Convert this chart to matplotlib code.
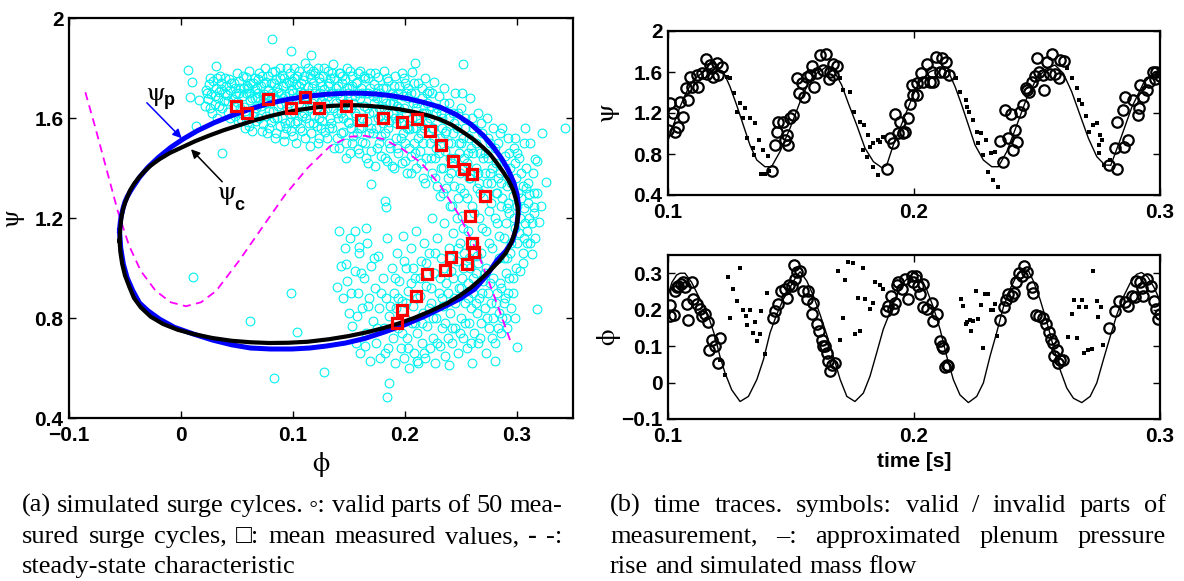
import matplotlib
matplotlib.use("Agg")
import matplotlib.pyplot as plt

plt.rcParams["font.family"] = ["Liberation Sans", "DejaVu Sans"]
plt.rcParams["mathtext.fontset"] = "stix"

# ---------------------------------------------------------------- (a) phase plane
# valid parts of the measured surge cycles (phi, psi)
valid_upper = [
    (0.022, 1.712), (0.025, 1.735), (0.027, 1.695), (0.029, 1.748), (0.031, 1.722), (0.033, 1.681),
    (0.034, 1.706), (0.036, 1.741), (0.038, 1.668), (0.040, 1.728), (0.041, 1.692), (0.043, 1.757),
    (0.044, 1.712), (0.046, 1.676), (0.024, 1.676), (0.030, 1.655), (0.037, 1.640), (0.042, 1.625),
    (0.026, 1.761), (0.035, 1.770), (0.047, 1.739), (0.049, 1.702), (0.050, 1.664), (0.052, 1.748),
    (0.053, 1.721), (0.055, 1.688), (0.056, 1.645), (0.058, 1.765), (0.059, 1.730), (0.061, 1.700),
    (0.062, 1.672), (0.064, 1.742), (0.065, 1.620), (0.066, 1.715), (0.068, 1.685), (0.069, 1.756),
    (0.048, 1.610), (0.054, 1.598), (0.060, 1.585), (0.067, 1.640), (0.057, 1.560), (0.063, 1.548),
    (0.070, 1.600), (0.071, 1.728), (0.072, 1.770), (0.074, 1.695), (0.075, 1.660), (0.076, 1.745),
    (0.078, 1.712), (0.079, 1.630), (0.081, 1.785), (0.082, 1.680), (0.083, 1.740), (0.085, 1.758),
    (0.086, 1.600), (0.087, 1.705), (0.089, 1.655), (0.090, 1.772), (0.091, 1.728), (0.093, 1.690),
    (0.094, 1.560), (0.095, 1.800), (0.096, 1.745), (0.098, 1.618), (0.099, 1.712), (0.073, 1.575),
    (0.077, 1.540), (0.080, 1.585), (0.084, 1.520), (0.088, 1.570), (0.092, 1.535), (0.097, 1.585),
    (0.100, 1.530), (0.101, 1.760), (0.102, 1.680), (0.103, 1.735), (0.104, 1.590), (0.105, 1.790),
    (0.106, 1.705), (0.107, 1.650), (0.108, 1.550), (0.109, 1.752), (0.110, 1.620), (0.111, 1.820),
    (0.112, 1.690), (0.113, 1.725), (0.114, 1.580), (0.115, 1.775), (0.116, 1.540), (0.117, 1.660),
    (0.118, 1.740), (0.119, 1.610), (0.120, 1.700), (0.121, 1.568), (0.122, 1.800), (0.123, 1.520),
    (0.124, 1.745), (0.125, 1.670), (0.126, 1.590), (0.127, 1.770), (0.128, 1.715), (0.129, 1.545),
    (0.130, 1.640), (0.131, 1.790), (0.132, 1.742), (0.133, 1.600), (0.134, 1.700), (0.135, 1.560),
    (0.136, 1.815), (0.137, 1.760), (0.138, 1.660), (0.139, 1.520), (0.140, 1.728), (0.141, 1.480),
    (0.142, 1.780), (0.143, 1.620), (0.144, 1.690), (0.145, 1.545), (0.146, 1.755), (0.147, 1.500),
    (0.148, 1.800), (0.149, 1.585), (0.150, 1.720), (0.151, 1.460), (0.152, 1.640), (0.153, 1.770),
    (0.154, 1.530), (0.155, 1.690), (0.156, 1.610), (0.157, 1.745), (0.158, 1.475), (0.159, 1.560),
    (0.160, 1.790), (0.161, 1.720), (0.162, 1.505), (0.163, 1.650), (0.164, 1.760), (0.165, 1.440),
    (0.166, 1.590), (0.167, 1.700), (0.168, 1.540), (0.169, 1.780), (0.170, 1.470), (0.171, 1.625),
    (0.172, 1.735), (0.173, 1.410), (0.174, 1.560), (0.175, 1.680), (0.176, 1.765), (0.177, 1.500),
    (0.178, 1.610), (0.179, 1.450), (0.180, 1.720), (0.181, 1.790), (0.182, 1.540), (0.183, 1.660),
    (0.184, 1.430), (0.185, 1.750), (0.186, 1.585), (0.187, 1.480), (0.188, 1.700), (0.189, 1.620),
    (0.190, 1.400), (0.191, 1.770), (0.192, 1.520), (0.193, 1.650), (0.194, 1.460), (0.195, 1.730),
    (0.196, 1.580), (0.197, 1.420), (0.198, 1.690), (0.199, 1.760), (0.200, 1.500), (0.201, 1.620),
    (0.202, 1.380), (0.203, 1.720), (0.204, 1.555), (0.205, 1.450), (0.206, 1.785), (0.207, 1.660),
    (0.208, 1.500), (0.209, 1.700), (0.210, 1.400), (0.211, 1.600), (0.212, 1.740), (0.213, 1.470),
    (0.214, 1.540), (0.215, 1.680), (0.216, 1.360), (0.217, 1.620), (0.218, 1.760), (0.219, 1.440),
    (0.220, 1.580),
    (0.021, 1.650), (0.023, 1.700), (0.028, 1.620), (0.032, 1.760), (0.034, 1.650), (0.039, 1.700),
    (0.045, 1.740), (0.047, 1.650), (0.051, 1.590), (0.052, 1.700), (0.055, 1.770), (0.057, 1.630),
    (0.060, 1.720), (0.061, 1.570), (0.063, 1.680), (0.066, 1.760), (0.067, 1.590), (0.069, 1.700),
    (0.071, 1.650), (0.072, 1.550), (0.074, 1.740), (0.076, 1.610), (0.078, 1.770), (0.079, 1.560),
    (0.081, 1.700), (0.082, 1.630), (0.084, 1.790), (0.085, 1.540), (0.087, 1.650), (0.088, 1.760),
    (0.090, 1.600), (0.091, 1.680), (0.092, 1.510), (0.094, 1.740), (0.095, 1.640), (0.097, 1.780),
    (0.098, 1.550), (0.100, 1.700), (0.101, 1.620), (0.103, 1.500), (0.104, 1.770), (0.106, 1.560),
    (0.107, 1.740), (0.108, 1.610), (0.110, 1.680), (0.111, 1.520), (0.113, 1.800), (0.114, 1.640),
    (0.115, 1.490), (0.117, 1.720), (0.118, 1.580), (0.120, 1.780), (0.121, 1.640), (0.122, 1.500),
    (0.124, 1.700), (0.125, 1.560), (0.127, 1.620), (0.128, 1.800), (0.130, 1.520), (0.131, 1.690),
    (0.133, 1.760), (0.134, 1.580), (0.136, 1.640), (0.137, 1.480), (0.138, 1.720), (0.140, 1.600),
    (0.141, 1.780), (0.143, 1.540), (0.144, 1.740), (0.146, 1.660), (0.147, 1.440), (0.149, 1.700),
    (0.150, 1.580), (0.151, 1.790), (0.153, 1.500), (0.154, 1.660), (0.156, 1.740), (0.157, 1.540),
    (0.159, 1.460), (0.160, 1.680), (0.162, 1.600), (0.163, 1.770), (0.164, 1.500), (0.166, 1.640),
    (0.167, 1.420), (0.169, 1.720), (0.170, 1.560), (0.172, 1.660), (0.173, 1.780), (0.175, 1.480),
    (0.176, 1.600), (0.178, 1.700), (0.179, 1.530), (0.181, 1.640), (0.182, 1.440), (0.184, 1.760),
    (0.185, 1.560), (0.187, 1.660), (0.188, 1.410), (0.190, 1.730), (0.191, 1.600), (0.193, 1.480),
    (0.194, 1.700), (0.196, 1.520), (0.197, 1.780), (0.199, 1.640), (0.200, 1.430), (0.202, 1.560),
    (0.203, 1.680), (0.205, 1.380), (0.206, 1.600), (0.208, 1.740), (0.209, 1.460), (0.211, 1.660),
    (0.212, 1.520), (0.214, 1.420), (0.215, 1.720), (0.217, 1.560), (0.218, 1.340), (0.220, 1.660),
    (0.030, 1.690), (0.036, 1.715), (0.042, 1.670), (0.048, 1.720), (0.053, 1.640), (0.058, 1.700),
    (0.062, 1.740), (0.064, 1.610), (0.068, 1.720), (0.073, 1.690), (0.077, 1.660), (0.080, 1.740),
    (0.083, 1.600), (0.086, 1.720), (0.089, 1.700), (0.093, 1.580), (0.096, 1.660), (0.099, 1.750),
    (0.102, 1.580), (0.105, 1.660), (0.109, 1.700), (0.112, 1.600), (0.116, 1.760), (0.119, 1.680),
    (0.123, 1.600), (0.126, 1.730), (0.129, 1.660), (0.132, 1.560), (0.135, 1.700), (0.139, 1.620),
    (0.142, 1.680), (0.145, 1.600), (0.148, 1.720), (0.152, 1.560), (0.155, 1.620), (0.158, 1.700),
    (0.161, 1.560), (0.165, 1.700), (0.168, 1.620), (0.171, 1.540), (0.174, 1.700), (0.177, 1.640),
    (0.180, 1.580), (0.183, 1.720), (0.186, 1.500), (0.189, 1.660), (0.192, 1.580), (0.195, 1.640),
    (0.198, 1.540), (0.201, 1.700), (0.204, 1.480), (0.207, 1.560), (0.210, 1.640), (0.213, 1.580),
    (0.216, 1.500), (0.219, 1.620),
    (0.026, 1.640), (0.032, 1.600), (0.039, 1.760), (0.044, 1.600), (0.050, 1.780), (0.056, 1.720),
    (0.061, 1.790), (0.066, 1.680), (0.070, 1.780), (0.075, 1.800), (0.079, 1.690), (0.084, 1.680),
    (0.088, 1.800), (0.092, 1.760), (0.096, 1.700), (0.101, 1.800), (0.105, 1.730), (0.110, 1.770),
    (0.114, 1.700), (0.118, 1.790), (0.123, 1.760), (0.127, 1.690), (0.131, 1.730), (0.135, 1.780),
    (0.140, 1.700), (0.144, 1.770), (0.149, 1.650), (0.153, 1.730), (0.158, 1.780), (0.162, 1.700),
    (0.167, 1.760), (0.171, 1.690), (0.176, 1.720), (0.180, 1.680), (0.185, 1.620), (0.190, 1.690),
    (0.195, 1.600), (0.200, 1.740), (0.205, 1.700), (0.210, 1.560), (0.215, 1.620), (0.220, 1.700),
]
valid_right = [
    (0.221, 1.710), (0.222, 1.500), (0.223, 1.650), (0.224, 1.380), (0.225, 1.560), (0.226, 1.745),
    (0.227, 1.440), (0.228, 1.620), (0.229, 1.330), (0.230, 1.690), (0.231, 1.520), (0.232, 1.400),
    (0.233, 1.600), (0.234, 1.300), (0.235, 1.720), (0.236, 1.470), (0.237, 1.550), (0.238, 1.360),
    (0.239, 1.660), (0.240, 1.250), (0.241, 1.500), (0.242, 1.420), (0.243, 1.620), (0.244, 1.330),
    (0.245, 1.700), (0.246, 1.560), (0.247, 1.280), (0.248, 1.460), (0.249, 1.380), (0.250, 1.640),
    (0.251, 1.210), (0.252, 1.520), (0.253, 1.300), (0.254, 1.600), (0.255, 1.420), (0.256, 1.150),
    (0.257, 1.360), (0.258, 1.680), (0.259, 1.480), (0.260, 1.250), (0.261, 1.560), (0.262, 1.100),
    (0.263, 1.400), (0.264, 1.320), (0.265, 1.620), (0.266, 1.200), (0.267, 1.460), (0.268, 1.060),
    (0.269, 1.540), (0.270, 1.280), (0.271, 1.380), (0.272, 1.150), (0.273, 1.600), (0.274, 1.440),
    (0.275, 1.230), (0.276, 1.500), (0.277, 1.340), (0.278, 1.080), (0.279, 1.560), (0.280, 1.200),
    (0.281, 1.420), (0.282, 1.300), (0.283, 1.500), (0.284, 1.130), (0.285, 1.380), (0.286, 1.250),
    (0.287, 1.560), (0.288, 1.040), (0.289, 1.450), (0.290, 1.180), (0.291, 1.330), (0.292, 1.520),
    (0.293, 1.220), (0.294, 1.400), (0.295, 1.100), (0.296, 1.290), (0.297, 1.480), (0.298, 1.160),
    (0.299, 1.360), (0.300, 1.250), (0.302, 1.440), (0.303, 1.200), (0.305, 1.330), (0.306, 1.120),
    (0.308, 1.400), (0.310, 1.260), (0.312, 1.500), (0.313, 1.180), (0.315, 1.300), (0.318, 1.430),
    (0.326, 1.343), (0.316, 1.436), (0.343, 1.560), (0.318, 0.836), (0.320, 1.183), (0.315, 1.243),
    (0.311, 1.296), (0.303, 0.990), (0.313, 1.056), (0.309, 1.149), (0.322, 1.540), (0.307, 1.560),
    (0.222, 1.600), (0.223, 1.440), (0.224, 1.700), (0.226, 1.520), (0.227, 1.360), (0.229, 1.640),
    (0.230, 1.460), (0.231, 1.290), (0.233, 1.560), (0.234, 1.400), (0.235, 1.660), (0.237, 1.320),
    (0.238, 1.500), (0.239, 1.600), (0.241, 1.380), (0.242, 1.250), (0.243, 1.540), (0.245, 1.440),
    (0.246, 1.200), (0.247, 1.620), (0.249, 1.320), (0.250, 1.500), (0.251, 1.400), (0.252, 1.160),
    (0.254, 1.560), (0.255, 1.280), (0.256, 1.460), (0.258, 1.360), (0.259, 1.100), (0.260, 1.600),
    (0.262, 1.220), (0.263, 1.500), (0.264, 1.050), (0.265, 1.380), (0.267, 1.300), (0.268, 1.580),
    (0.269, 1.160), (0.270, 1.440), (0.272, 1.000), (0.273, 1.340), (0.274, 1.520), (0.275, 1.100),
    (0.277, 1.260), (0.278, 1.400), (0.279, 0.960), (0.280, 1.480), (0.282, 1.180), (0.283, 1.360),
    (0.284, 1.040), (0.285, 1.540), (0.287, 1.280), (0.288, 1.120), (0.289, 1.400), (0.290, 0.980),
    (0.292, 1.260), (0.293, 1.460), (0.294, 1.060), (0.295, 1.340), (0.297, 1.200), (0.298, 1.420),
    (0.299, 1.000), (0.301, 1.300), (0.302, 1.140), (0.304, 1.380), (0.305, 1.060), (0.306, 1.240),
    (0.308, 1.320), (0.309, 1.100), (0.311, 1.200), (0.314, 1.380), (0.316, 1.120),
    (0.224, 1.560), (0.228, 1.480), (0.232, 1.620), (0.236, 1.540), (0.240, 1.440), (0.244, 1.580),
    (0.248, 1.500), (0.253, 1.440), (0.257, 1.520), (0.261, 1.460), (0.266, 1.340), (0.271, 1.460),
    (0.276, 1.380), (0.281, 1.300), (0.286, 1.340), (0.291, 1.240),
    (0.300, 1.460), (0.304, 1.280), (0.307, 1.180), (0.310, 1.340), (0.312, 1.100), (0.315, 1.220),
    (0.318, 1.300), (0.321, 1.250), (0.306, 1.500), (0.298, 1.520), (0.300, 1.100), (0.305, 1.020),
    (0.296, 0.960), (0.291, 1.040), (0.286, 0.920),
]
valid_lower = [
    (0.141, 1.150), (0.143, 1.010), (0.145, 0.880), (0.146, 1.080), (0.148, 0.950), (0.150, 0.820),
    (0.151, 1.120), (0.153, 0.770), (0.155, 0.990), (0.156, 0.700), (0.158, 0.900), (0.159, 1.060),
    (0.160, 0.660), (0.162, 0.840), (0.163, 0.960), (0.165, 0.740), (0.166, 1.100), (0.168, 0.880),
    (0.169, 0.630), (0.170, 1.010), (0.171, 0.790), (0.173, 0.920), (0.174, 0.700), (0.176, 1.050),
    (0.177, 0.840), (0.178, 0.640), (0.180, 0.960), (0.181, 0.760), (0.183, 0.880), (0.184, 1.120),
    (0.185, 0.680), (0.186, 0.810), (0.188, 1.000), (0.189, 0.720), (0.190, 0.900), (0.191, 0.620),
    (0.192, 0.840), (0.193, 1.060), (0.194, 0.760), (0.195, 0.950), (0.196, 0.680), (0.197, 0.870),
    (0.198, 1.130), (0.199, 0.640), (0.200, 0.800), (0.201, 1.000), (0.202, 0.720), (0.203, 0.910),
    (0.204, 0.600), (0.205, 1.080), (0.206, 0.780), (0.207, 0.850), (0.208, 0.660), (0.209, 0.960),
    (0.210, 1.150), (0.211, 0.740), (0.212, 0.620), (0.213, 0.890), (0.214, 1.030), (0.215, 0.700),
    (0.216, 0.820), (0.217, 1.100), (0.218, 0.640), (0.219, 0.930), (0.220, 0.770), (0.221, 1.060),
    (0.222, 0.680), (0.223, 0.860), (0.224, 1.200), (0.225, 0.720), (0.226, 0.980), (0.227, 0.620),
    (0.228, 0.800), (0.229, 1.120), (0.230, 0.900), (0.231, 0.690), (0.232, 1.040), (0.233, 0.760),
    (0.234, 0.850), (0.235, 1.180), (0.236, 0.650), (0.237, 0.940), (0.238, 0.720), (0.239, 1.080),
    (0.240, 0.820), (0.241, 0.990), (0.242, 0.700), (0.243, 1.140), (0.244, 0.880), (0.245, 0.760),
    (0.246, 1.030), (0.247, 0.660), (0.248, 0.920), (0.249, 1.100), (0.250, 0.800), (0.251, 0.960),
    (0.252, 0.720), (0.253, 1.060), (0.254, 0.860), (0.255, 0.680), (0.256, 0.940), (0.257, 0.780),
    (0.258, 1.000), (0.259, 0.840), (0.260, 0.620), (0.261, 0.900), (0.262, 0.740), (0.263, 0.980),
    (0.264, 0.820), (0.265, 0.700), (0.266, 0.880), (0.268, 0.780), (0.270, 0.950), (0.271, 0.840),
    (0.272, 0.660), (0.274, 0.900), (0.275, 0.760), (0.277, 0.860), (0.279, 0.800), (0.280, 0.700),
    (0.282, 0.900), (0.284, 0.820), (0.286, 0.740), (0.288, 0.860), (0.290, 0.800), (0.292, 0.900),
    (0.295, 0.840),
    (0.152, 0.900), (0.157, 0.810), (0.161, 0.980), (0.164, 0.690), (0.167, 0.850), (0.172, 1.040),
    (0.175, 0.760), (0.179, 0.900), (0.182, 0.660), (0.187, 0.850), (0.191, 0.960), (0.194, 0.880),
    (0.197, 0.740), (0.199, 1.030), (0.201, 0.860), (0.203, 0.680), (0.205, 0.940), (0.207, 1.000),
    (0.209, 0.780), (0.211, 0.880), (0.213, 0.960), (0.215, 0.780), (0.217, 0.660), (0.219, 1.020),
    (0.221, 0.840), (0.223, 0.920), (0.225, 0.800), (0.227, 1.060), (0.229, 0.700), (0.231, 0.960),
    (0.233, 0.880), (0.235, 1.000), (0.236, 0.780), (0.238, 0.900), (0.240, 1.040), (0.242, 0.760),
    (0.243, 0.960), (0.245, 0.860), (0.247, 1.080), (0.249, 0.740), (0.250, 0.920), (0.252, 1.000),
    (0.254, 0.780), (0.256, 0.880), (0.257, 1.040), (0.259, 0.700), (0.261, 0.960), (0.263, 0.860),
    (0.265, 1.020), (0.267, 0.720), (0.269, 0.900), (0.271, 0.980), (0.273, 0.800), (0.276, 0.940),
    (0.278, 0.720), (0.281, 0.860), (0.283, 0.760), (0.285, 0.940), (0.287, 0.800), (0.289, 0.880),
    (0.291, 0.760), (0.293, 0.960), (0.296, 0.900), (0.298, 0.800),
]
valid_scattered = [
    (0.011, 0.963), (0.098, 0.899), (0.062, 0.789), (0.104, 0.743), (0.128, 0.585), (0.083, 0.559),
    (0.186, 0.539), (0.184, 0.483), (0.280, 0.629), (0.300, 0.683), (0.239, 0.612), (0.211, 0.629),
    (0.170, 1.336), (0.182, 1.269), (0.183, 1.243), (0.155, 1.147), (0.165, 1.160), (0.159, 1.083),
    (0.147, 1.016), (0.139, 0.923), (0.006, 1.793), (0.0095, 1.743), (0.008, 1.685), (0.016, 1.672),
    (0.013, 1.569), (0.037, 1.459), (0.0315, 1.809), (0.081, 1.916), (0.098, 1.867), (0.116, 1.852),
    (0.2085, 1.820), (0.252, 1.816), (0.251, 1.700),
]

# mean measured values
phi_mean = [0.0492, 0.0586, 0.078, 0.098, 0.111, 0.123, 0.1475, 0.161, 0.1807, 0.1976, 0.211, 0.222,
            0.232, 0.2427, 0.253, 0.260, 0.271, 0.258, 0.2600, 0.2612, 0.241, 0.2550, 0.2355, 0.2200,
            0.2095, 0.1970, 0.1925]
psi_mean = [1.648, 1.622, 1.677, 1.642, 1.684, 1.639, 1.650, 1.594, 1.600, 1.583, 1.595, 1.550,
            1.494, 1.428, 1.395, 1.376, 1.288, 1.208, 1.099, 1.063, 1.044, 1.015, 0.993, 0.978,
            0.888, 0.834, 0.779]

# steady-state compressor characteristic
phi_ss = [-0.0854, -0.077, -0.0668, -0.0566, -0.0464, -0.036, -0.0227, -0.0092, 0.0044, 0.018,
          0.0315, 0.052, 0.0722, 0.0925, 0.113, 0.133, 0.150, 0.1637, 0.1807, 0.1976, 0.2146,
          0.2315, 0.2485, 0.2654, 0.279, 0.294]
psi_ss = [1.703, 1.570, 1.400, 1.230, 1.090, 0.989, 0.909, 0.863, 0.847, 0.863, 0.909, 1.030,
          1.160, 1.290, 1.400, 1.487, 1.525, 1.529, 1.516, 1.476, 1.420, 1.330, 1.210, 1.056,
          0.896, 0.709]

# simulated plenum pressure rise loop (psi_p)
phi_p = [-0.0549, -0.0543, -0.0535, -0.0515, -0.0500, -0.0480, -0.0455, -0.0430, -0.0370, -0.0295,
         -0.0200, -0.0090, 0.0020, 0.0146, 0.0300, 0.0450, 0.0620, 0.0790, 0.0960, 0.1130, 0.1300,
         0.1470, 0.1610, 0.1740, 0.1880, 0.2010, 0.2160, 0.2315, 0.2460, 0.2586, 0.2700, 0.2790,
         0.2865, 0.2925, 0.2970, 0.3000, 0.3012, 0.3010, 0.2995, 0.2960, 0.2900, 0.2820, 0.2730,
         0.2620, 0.2490, 0.2350, 0.2180, 0.2010, 0.1810, 0.1640, 0.1470, 0.1300, 0.1150, 0.0990,
         0.0800, 0.0620, 0.0450, 0.0280, 0.0110, -0.0060, -0.0190, -0.0295, -0.0370, -0.0430,
         -0.0480, -0.0515, -0.0538, -0.0549]
psi_p = [1.149, 1.180, 1.205, 1.243, 1.265, 1.285, 1.305, 1.323, 1.363, 1.403,
         1.443, 1.483, 1.516, 1.549, 1.582, 1.609, 1.636, 1.659, 1.675, 1.687, 1.695,
         1.699, 1.699, 1.696, 1.689, 1.679, 1.663, 1.643, 1.613, 1.576, 1.530, 1.483,
         1.436, 1.389, 1.343, 1.296, 1.256, 1.216, 1.160, 1.109, 1.068, 1.030, 0.970,
         0.915, 0.877, 0.845, 0.808, 0.775, 0.743, 0.718, 0.700, 0.688, 0.680, 0.676,
         0.676, 0.680, 0.693, 0.712, 0.736, 0.763, 0.795, 0.829, 0.860, 0.909,
         0.960, 1.016, 1.080, 1.149]

# simulated compressor pressure rise loop (psi_c)
phi_c = [-0.0549, -0.0545, -0.0540, -0.0532, -0.0518, -0.0500, -0.0480, -0.0455, -0.0420, -0.0380,
         -0.0330, -0.0270, -0.0193, -0.0100, 0.0010, 0.0125, 0.0247, 0.0380, 0.0519, 0.0650,
         0.0790, 0.0920, 0.1060, 0.1200, 0.1330, 0.1450, 0.1570, 0.1690, 0.1810, 0.1950, 0.2080,
         0.2200, 0.2315, 0.2420, 0.2520, 0.2610, 0.2690, 0.2760, 0.2820, 0.2875, 0.2925, 0.2965,
         0.2990, 0.3005, 0.3010, 0.3000, 0.2976, 0.2945, 0.2900, 0.2840, 0.2770, 0.2680, 0.2590,
         0.2490, 0.2380, 0.2230, 0.2080, 0.1950, 0.1810, 0.1660, 0.1500, 0.1320, 0.1130, 0.0960,
         0.0790, 0.0620, 0.0450, 0.0280, 0.0110, -0.0030, -0.0160, -0.0270, -0.0360, -0.0420,
         -0.0460, -0.0500, -0.0525, -0.0540, -0.0549]
psi_c = [1.109, 1.140, 1.170, 1.203, 1.235, 1.260, 1.283, 1.310, 1.336, 1.360,
         1.385, 1.410, 1.435, 1.460, 1.483, 1.507, 1.529, 1.551, 1.571, 1.590,
         1.607, 1.621, 1.633, 1.642, 1.648, 1.651, 1.651, 1.648, 1.643, 1.635, 1.624,
         1.611, 1.594, 1.572, 1.543, 1.515, 1.485, 1.455, 1.420, 1.385, 1.350, 1.313,
         1.275, 1.245, 1.216, 1.176, 1.136, 1.098, 1.060, 1.027, 0.995, 0.957, 0.922,
         0.890, 0.860, 0.828, 0.800, 0.779, 0.760, 0.743, 0.728, 0.715, 0.705, 0.701,
         0.700, 0.703, 0.709, 0.720, 0.736, 0.753, 0.776, 0.805, 0.843, 0.880,
         0.923, 0.970, 1.016, 1.060, 1.109]

# ---------------------------------------------------------------- (b) time traces
t_psi = [0.1001, 0.1022, 0.1049, 0.1076, 0.1103, 0.1144, 0.1184, 0.1225, 0.1252, 0.1279, 0.1306,
         0.1333, 0.1361, 0.1394, 0.1421, 0.1455, 0.1496, 0.1537, 0.1570, 0.1604, 0.1645, 0.1672,
         0.1706, 0.1733, 0.1767, 0.1801, 0.1835, 0.1869, 0.1889, 0.1916, 0.1943, 0.1970, 0.1997,
         0.2024, 0.2065, 0.2106, 0.2140, 0.2167, 0.2194, 0.2221, 0.2248, 0.2282, 0.2316, 0.2343,
         0.2377, 0.2418, 0.2458, 0.2499, 0.2540, 0.2573, 0.2607, 0.2641, 0.2675, 0.2709, 0.2743,
         0.2776, 0.2800, 0.2840, 0.2886, 0.2932, 0.2977, 0.3000]
psi_sim = [0.937, 1.083, 1.262, 1.408, 1.522, 1.603, 1.642, 1.603, 1.457, 1.278, 1.083,
           0.888, 0.741, 0.676, 0.676, 0.822, 1.051, 1.310, 1.490, 1.587, 1.652, 1.620,
           1.473, 1.295, 1.083, 0.856, 0.725, 0.667, 0.690, 0.888, 1.051, 1.213, 1.376,
           1.505, 1.603, 1.642, 1.603, 1.457, 1.278, 1.083, 0.888, 0.741, 0.676, 0.676,
           0.822, 1.083, 1.343, 1.539, 1.636, 1.668, 1.587, 1.408, 1.180, 0.953, 0.774,
           0.693, 0.690, 0.950, 1.260, 1.487, 1.600, 1.617]

psi_valid = [
    (0.1008, 1.294), (0.1001, 1.034), (0.1029, 1.018), (0.1022, 1.197), (0.1049, 1.311), (0.1042, 1.067),
    (0.1062, 1.164), (0.1083, 1.327), (0.1073, 1.447), (0.1096, 1.457), (0.1123, 1.457), (0.1089, 1.554),
    (0.1117, 1.571), (0.1137, 1.587), (0.1154, 1.727), (0.1157, 1.577), (0.1177, 1.636), (0.1184, 1.554),
    (0.1198, 1.685), (0.1205, 1.571), (0.1218, 1.652), (0.1171, 1.668),
    (0.1424, 0.638), (0.1435, 0.888), (0.1442, 1.018), (0.1449, 1.115), (0.1469, 1.115), (0.1482, 0.985),
    (0.1489, 0.888), (0.1476, 0.937), (0.1496, 1.148), (0.1510, 1.180), (0.1523, 1.545), (0.1543, 1.490),
    (0.1534, 1.392), (0.1553, 1.360), (0.1564, 1.554), (0.1584, 1.662), (0.1577, 1.571), (0.1593, 1.457),
    (0.1604, 1.587), (0.1618, 1.766), (0.1641, 1.772), (0.1631, 1.620), (0.1656, 1.532), (0.1672, 1.675),
    (0.1686, 1.662), (0.1659, 1.603), (0.1672, 1.571),
    (0.1892, 0.654), (0.1903, 0.953), (0.1923, 1.187), (0.1916, 0.904), (0.1943, 1.109), (0.1936, 1.005),
    (0.1957, 1.005), (0.1963, 1.018), (0.1977, 1.148), (0.1984, 1.285), (0.1997, 1.376), (0.2011, 1.376),
    (0.1991, 1.473), (0.2011, 1.490), (0.2027, 1.587), (0.2038, 1.506), (0.2051, 1.675), (0.2065, 1.506),
    (0.2079, 1.506), (0.2072, 1.603), (0.2089, 1.746), (0.2113, 1.733), (0.2130, 1.701), (0.2106, 1.603),
    (0.2122, 1.603), (0.2144, 1.571),
    (0.2350, 0.927), (0.2361, 0.725), (0.2370, 1.229), (0.2384, 0.953), (0.2404, 0.839), (0.2393, 1.187),
    (0.2411, 1.034), (0.2420, 0.914), (0.2431, 1.206), (0.2442, 1.278), (0.2455, 1.441), (0.2469, 1.408),
    (0.2458, 1.424), (0.2478, 1.506), (0.2492, 1.564), (0.2510, 1.603), (0.2529, 1.424), (0.2526, 1.571),
    (0.2501, 1.733), (0.2539, 1.694), (0.2559, 1.772), (0.2553, 1.577), (0.2573, 1.577), (0.2591, 1.538),
    (0.2594, 1.717), (0.2610, 1.707),
    (0.2792, 0.692), (0.2826, 0.650), (0.2818, 0.855), (0.2853, 0.871), (0.2871, 0.936), (0.2826, 1.114),
    (0.2849, 1.228), (0.2856, 1.357), (0.2890, 1.325), (0.2909, 1.179), (0.2914, 1.244), (0.2932, 1.357),
    (0.2917, 1.471), (0.2947, 1.422), (0.2955, 1.503), (0.2970, 1.601), (0.2985, 1.601), (0.3000, 1.559),
    (0.2978, 1.536),
]
psi_invalid = [
    (0.1238, 1.554), (0.1252, 1.538), (0.1268, 1.392), (0.1293, 1.294), (0.1313, 1.252), (0.1280, 1.206),
    (0.1333, 1.154), (0.1354, 1.099), (0.1304, 1.148), (0.1320, 0.953), (0.1344, 0.862), (0.1371, 0.937),
    (0.1351, 0.790), (0.1388, 0.840), (0.1380, 0.605), (0.1394, 0.605), (0.1408, 0.784), (0.1411, 0.638),
    (0.1699, 1.545), (0.1710, 1.424), (0.1740, 1.408), (0.1756, 1.206), (0.1781, 1.115), (0.1797, 1.083),
    (0.1815, 0.985), (0.1791, 0.840), (0.1820, 0.872), (0.1835, 0.904), (0.1855, 0.937), (0.1875, 0.969),
    (0.1810, 0.774), (0.1835, 0.676), (0.1855, 0.595), (0.1862, 0.920),
    (0.2171, 1.545), (0.2187, 1.408), (0.2211, 1.327), (0.2225, 1.206), (0.2217, 1.262), (0.2241, 1.132),
    (0.2255, 1.018), (0.2271, 1.001), (0.2262, 0.904), (0.2293, 0.937), (0.2282, 0.790), (0.2312, 0.806),
    (0.2329, 0.816), (0.2302, 0.628), (0.2323, 0.546), (0.2343, 0.481),
    (0.2623, 1.636), (0.2641, 1.538), (0.2661, 1.441), (0.2672, 1.327), (0.2682, 1.285), (0.2699, 1.174),
    (0.2713, 1.018), (0.2729, 1.083), (0.2743, 1.099), (0.2756, 0.985), (0.2763, 0.937), (0.2750, 0.888),
    (0.2750, 0.806), (0.2773, 0.692), (0.2795, 0.740),
]

t_phi = [0.1000, 0.1016, 0.1035, 0.1049, 0.1069, 0.1096, 0.1130, 0.1164, 0.1191, 0.1211, 0.1232,
         0.1259, 0.1293, 0.1327, 0.1361, 0.1388, 0.1415, 0.1442, 0.1469, 0.1496, 0.1523, 0.1537,
         0.1564, 0.1591, 0.1618, 0.1645, 0.1672, 0.1700, 0.1727, 0.1760, 0.1794, 0.1821, 0.1848,
         0.1875, 0.1889, 0.1923, 0.1957, 0.1997, 0.2024, 0.2051, 0.2079, 0.2106, 0.2133, 0.2160,
         0.2187, 0.2221, 0.2255, 0.2282, 0.2309, 0.2336, 0.2363, 0.2390, 0.2417, 0.2444, 0.2465,
         0.2485, 0.2512, 0.2539, 0.2566, 0.2594, 0.2621, 0.2648, 0.2682, 0.2716, 0.2743, 0.2770,
         0.2797, 0.2824, 0.2851, 0.2878, 0.2905, 0.2925, 0.2950, 0.2975, 0.3000]
phi_sim = [0.240, 0.275, 0.295, 0.300, 0.300, 0.275, 0.229, 0.183, 0.127, 0.072, 0.026,
           -0.020, -0.052, -0.038, 0.008, 0.063, 0.137, 0.187, 0.229, 0.261, 0.293, 0.304,
           0.279, 0.238, 0.187, 0.132, 0.072, 0.008, -0.038, -0.052, -0.029, 0.017, 0.081,
           0.146, 0.170, 0.229, 0.275, 0.300, 0.293, 0.256, 0.206, 0.146, 0.072, 0.008,
           -0.034, -0.055, -0.038, -0.001, 0.072, 0.137, 0.206, 0.256, 0.293, 0.311, 0.307,
           0.279, 0.229, 0.169, 0.100, 0.035, -0.015, -0.043, -0.055, -0.038, -0.001, 0.063,
           0.125, 0.185, 0.235, 0.272, 0.297, 0.302, 0.290, 0.262, 0.225]

phi_valid_t = [
    (0.1008, 0.212), (0.1008, 0.183), (0.1024, 0.184), (0.1029, 0.252), (0.1035, 0.261), (0.1042, 0.266),
    (0.1052, 0.270), (0.1060, 0.275), (0.1069, 0.261), (0.1076, 0.215), (0.1083, 0.173), (0.1096, 0.275),
    (0.1103, 0.229), (0.1117, 0.215), (0.1130, 0.201), (0.1137, 0.183), (0.1151, 0.187), (0.1164, 0.166),
    (0.1178, 0.118), (0.1168, 0.090), (0.1191, 0.101), (0.1211, 0.123), (0.1205, 0.054),
    (0.1428, 0.178), (0.1435, 0.196), (0.1449, 0.215), (0.1458, 0.252), (0.1476, 0.256), (0.1485, 0.233),
    (0.1493, 0.267), (0.1503, 0.264), (0.1516, 0.284), (0.1526, 0.302), (0.1512, 0.323), (0.1537, 0.307),
    (0.1550, 0.252), (0.1570, 0.252), (0.1564, 0.229), (0.1591, 0.219), (0.1584, 0.187), (0.1604, 0.160),
    (0.1615, 0.141), (0.1625, 0.118), (0.1638, 0.100), (0.1629, 0.101), (0.1645, 0.081), (0.1652, 0.058),
    (0.1665, 0.049), (0.1679, 0.054), (0.1659, 0.031),
    (0.1886, 0.196), (0.1896, 0.210), (0.1906, 0.238), (0.1916, 0.203), (0.1923, 0.219), (0.1930, 0.267),
    (0.1936, 0.275), (0.1950, 0.256), (0.1963, 0.284), (0.1977, 0.229), (0.1991, 0.293), (0.1997, 0.275),
    (0.2008, 0.293), (0.2018, 0.266), (0.2024, 0.243), (0.2035, 0.270), (0.2038, 0.206), (0.2051, 0.201),
    (0.2072, 0.219), (0.2079, 0.169), (0.2092, 0.187), (0.2106, 0.114), (0.2113, 0.100), (0.2119, 0.095),
    (0.2126, 0.044), (0.2140, 0.046), (0.2133, 0.049),
    (0.2350, 0.171), (0.2364, 0.208), (0.2374, 0.227), (0.2383, 0.243), (0.2397, 0.238), (0.2407, 0.247),
    (0.2415, 0.275), (0.2428, 0.300), (0.2438, 0.293), (0.2447, 0.321), (0.2458, 0.302), (0.2478, 0.261),
    (0.2485, 0.247), (0.2496, 0.184), (0.2510, 0.183), (0.2526, 0.178), (0.2537, 0.162), (0.2547, 0.138),
    (0.2556, 0.120), (0.2567, 0.109), (0.2580, 0.090), (0.2570, 0.072), (0.2594, 0.063), (0.2605, 0.063),
    (0.2587, 0.054),
    (0.2792, 0.151), (0.2818, 0.197), (0.2833, 0.224), (0.2856, 0.220), (0.2871, 0.211), (0.2887, 0.238),
    (0.2899, 0.234), (0.2902, 0.280), (0.2920, 0.277), (0.2925, 0.259), (0.2932, 0.238), (0.2947, 0.284),
    (0.2962, 0.266), (0.2975, 0.224), (0.2985, 0.201), (0.2993, 0.174), (0.3000, 0.187),
]
phi_invalid_t = [
    (0.1245, 0.289), (0.1293, 0.313), (0.1263, 0.256), (0.1252, 0.178), (0.1282, 0.224), (0.1304, 0.199),
    (0.1333, 0.199), (0.1380, 0.196), (0.1401, 0.247), (0.1317, 0.183), (0.1323, 0.157), (0.1354, 0.166),
    (0.1344, 0.135), (0.1374, 0.132), (0.1363, 0.114), (0.1394, 0.077), (0.1232, 0.021), (0.1211, 0.063),
    (0.1692, 0.307), (0.1733, 0.330), (0.1750, 0.327), (0.1791, 0.313), (0.1719, 0.282), (0.1774, 0.233),
    (0.1801, 0.229), (0.1832, 0.219), (0.1841, 0.275), (0.1862, 0.267), (0.1821, 0.201), (0.1710, 0.178),
    (0.1781, 0.141), (0.1760, 0.132), (0.1699, 0.116), (0.1875, 0.256),
    (0.2190, 0.229), (0.2201, 0.210), (0.2252, 0.252), (0.2271, 0.212), (0.2289, 0.244), (0.2302, 0.244),
    (0.2261, 0.175), (0.2217, 0.166), (0.2228, 0.172), (0.2241, 0.169), (0.2211, 0.160), (0.2230, 0.141),
    (0.2312, 0.199), (0.2323, 0.199), (0.2330, 0.215), (0.2282, 0.095), (0.2339, 0.127),
    (0.2729, 0.307), (0.2651, 0.227), (0.2682, 0.227), (0.2672, 0.208), (0.2699, 0.208), (0.2743, 0.224),
    (0.2761, 0.208), (0.2641, 0.187), (0.2749, 0.181), (0.2627, 0.125), (0.2661, 0.123), (0.2691, 0.081),
    (0.2708, 0.090), (0.2722, 0.092), (0.2767, 0.104),
]

x_ticks_a = [-0.1, 0.0, 0.1, 0.2, 0.3]
x_labels_a = ["\u22120.1", "0", "0.1", "0.2", "0.3"]
y_ticks_a = [0.4, 0.8, 1.2, 1.6, 2.0]
y_labels_a = ["0.4", "0.8", "1.2", "1.6", "2"]
t_ticks = [0.1, 0.2, 0.3]
t_labels = ["0.1", "0.2", "0.3"]
phi_ticks = [-0.1, 0.0, 0.1, 0.2, 0.3]
phi_labels = ["\u22120.1", "0", "0.1", "0.2", "0.3"]

caption_a = ["(a) simulated surge cylces. \u25e6: valid parts of 50 mea-",
             "sured surge cycles, \u25a1: mean measured values, - -:",
             "steady-state characteristic"]
caption_b = ["(b) time traces.  symbols:  valid / invalid parts of",
             "measurement, \u2013:  approximated plenum pressure",
             "rise and simulated mass flow"]

# ---------------------------------------------------------------- figure
W, H = 1184, 581
fig = plt.figure(figsize=(W / 100, H / 100), dpi=100)


def px_axes(x0, y0, x1, y1):
    return fig.add_axes([x0 / W, 1 - y1 / H, (x1 - x0) / W, (y1 - y0) / H])


def style_axes(ax, xt, xl, yt, yl):
    ax.set_xticks(xt, xl, fontsize=15, fontweight="bold")
    ax.set_yticks(yt, yl, fontsize=15, fontweight="bold")
    ax.tick_params(direction="in", top=True, right=True, length=5, width=1)
    ax.tick_params(axis="x", pad=6)
    ax.tick_params(axis="y", pad=4)
    for s in ax.spines.values():
        s.set_linewidth(1.6)


sym = dict(family="STIXGeneral")

axA = px_axes(69, 18, 573, 418)
cloud = valid_upper + valid_right + valid_lower + valid_scattered
axA.plot([p[0] for p in cloud], [p[1] for p in cloud], "o", ls="none", ms=6.3,
         mfc="none", mec="#00F2F2", mew=0.8)
axA.plot(phi_ss, psi_ss, color="#FF00FF", lw=1.3, ls=(0, (4.5, 3)))
axA.plot(phi_p, psi_p, color="#0000FF", lw=3.6, solid_joinstyle="round")
axA.plot(phi_c, psi_c, color="black", lw=3.0, solid_joinstyle="round")
axA.plot(phi_mean, psi_mean, "s", ls="none", ms=7.5, mfc="none", mec="#FF0000", mew=2.3)
axA.set_xlim(-0.1, 0.35)
axA.set_ylim(0.4, 2.0)
style_axes(axA, x_ticks_a, x_labels_a, y_ticks_a, y_labels_a)
axA.set_xlabel("\u03d5", fontsize=20, labelpad=0, **sym)
axA.xaxis.set_label_coords(0.5, -0.085)
axA.set_ylabel("\u03c8", fontsize=18, **sym)
axA.yaxis.set_label_coords(-0.088, 0.5)

axA.annotate("", xy=(0.0006, 1.519), xytext=(-0.0305, 1.661),
             arrowprops=dict(arrowstyle="-|>", color="#0000FF", lw=1.1, mutation_scale=13,
                             shrinkA=0, shrinkB=0))
axA.text(-0.0231, 1.695, "\u03c8", fontsize=19, ha="center", va="center", **sym)
axA.text(-0.0103, 1.669, "p", fontsize=13, fontweight="bold", ha="center", va="center")
axA.annotate("", xy=(0.0089, 1.475), xytext=(0.0368, 1.345),
             arrowprops=dict(arrowstyle="-|>", color="black", lw=1.1, mutation_scale=13,
                             shrinkA=0, shrinkB=0))
axA.text(0.0406, 1.299, "\u03c8", fontsize=19, ha="center", va="center", **sym)
axA.text(0.0516, 1.250, "c", fontsize=13, fontweight="bold", ha="center", va="center")

# pressure rise over time
axB = px_axes(668, 31, 1160, 195)
axB.plot(t_psi, psi_sim, color="black", lw=1.0)
axB.plot([p[0] for p in psi_invalid], [p[1] for p in psi_invalid], "s", ls="none",
         ms=2.2, color="black", mew=0)
axB.plot([p[0] for p in psi_valid], [p[1] for p in psi_valid], "o", ls="none",
         ms=7.5, mfc="none", mec="black", mew=1.6)
axB.set_xlim(0.1, 0.3)
axB.set_ylim(0.4, 2.0)
style_axes(axB, t_ticks, t_labels, y_ticks_a, y_labels_a)
axB.set_ylabel("\u03c8", fontsize=19, **sym)
axB.yaxis.set_label_coords(-0.098, 0.5)

# mass flow over time
axC = px_axes(668, 255, 1160, 419)
axC.plot(t_phi, phi_sim, color="black", lw=1.0)
axC.plot([p[0] for p in phi_invalid_t], [p[1] for p in phi_invalid_t], "s", ls="none",
         ms=2.2, color="black", mew=0)
axC.plot([p[0] for p in phi_valid_t], [p[1] for p in phi_valid_t], "o", ls="none",
         ms=7.5, mfc="none", mec="black", mew=1.6)
axC.set_xlim(0.1, 0.3)
axC.set_ylim(-0.1, 0.35)
style_axes(axC, t_ticks, t_labels, phi_ticks, phi_labels)
axC.set_ylabel("\u03d5", fontsize=19, **sym)
axC.yaxis.set_label_coords(-0.098, 0.5)
axC.set_xlabel("time [s]", fontsize=15, fontweight="bold")
axC.xaxis.set_label_coords(0.5, -0.2)

# ---------------------------------------------------------------- captions
renderer = fig.canvas.get_renderer()
CAP_SIZE = 19
cap_font = dict(family=["Liberation Serif", "DejaVu Sans"], fontsize=CAP_SIZE)


def caption_line(text, x0, x1, y, justify):
    words = text.split()
    items = []
    for w in words:
        kw = dict(cap_font)
        if w == "-":
            kw["fontweight"] = "bold"
        items.append(fig.text(0, 1 - y / H, w, va="baseline", ha="left", **kw))
    widths = [t.get_window_extent(renderer=renderer).width for t in items]
    space = 0.25 * CAP_SIZE * 100 / 72
    if justify and len(items) > 1:
        gap = ((x1 - x0) - sum(widths)) / (len(items) - 1)
    else:
        gap = space
    x = x0
    for t, w in zip(items, widths):
        t.set_x(x / W)
        x += w + gap


base_y = [512, 543, 573]
for i, line in enumerate(caption_a):
    caption_line(line, 22, 562, base_y[i], justify=(i < 2))
for i, line in enumerate(caption_b):
    caption_line(line, 610, 1166, base_y[i], justify=(i < 2))

fig.savefig("out.png", dpi=100)
